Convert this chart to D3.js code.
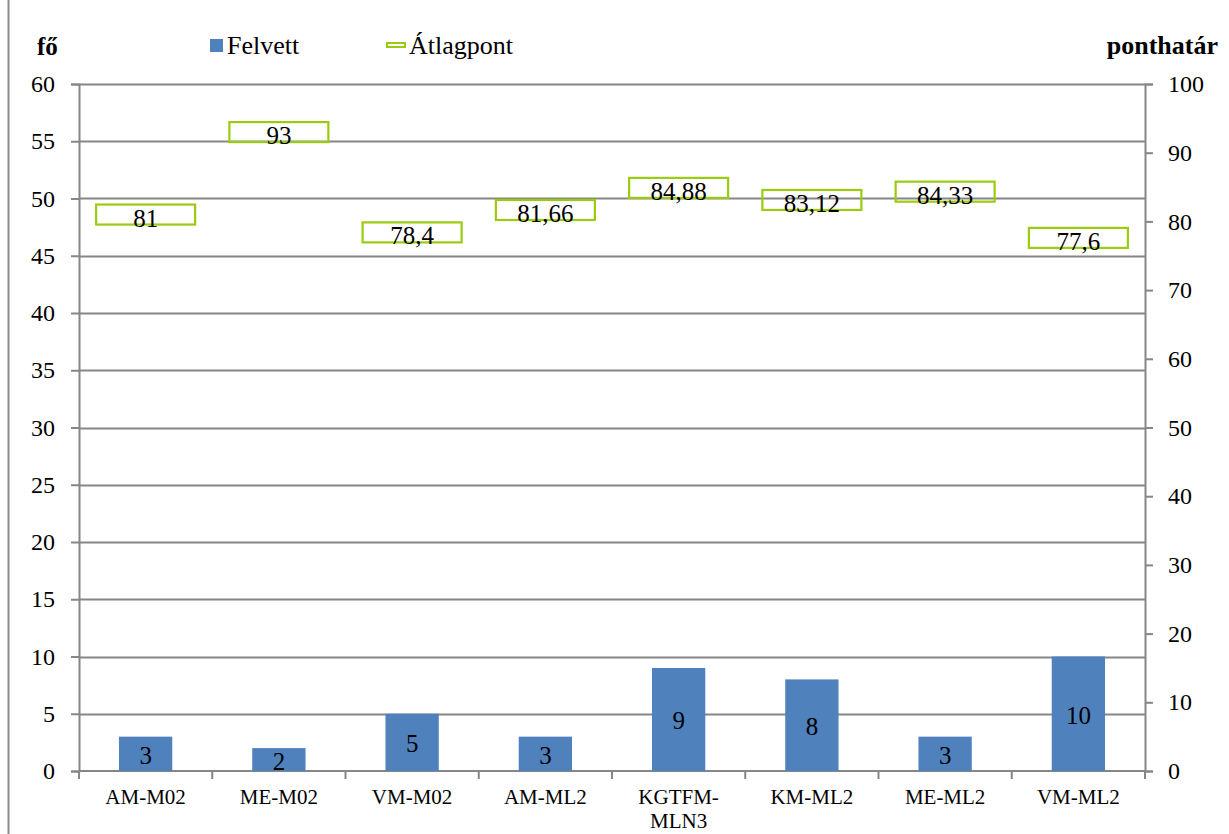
<!DOCTYPE html>
<html>
<head>
<meta charset="utf-8">
<script src="https://cdn.jsdelivr.net/npm/d3@7"></script>
<style>
    body { margin: 0; background: #fff; }
</style>
</head>
<body>
<div id="chart"></div>
<script>
// Data
var categories = ["AM-M02", "ME-M02", "VM-M02", "AM-ML2", "KGTFM-MLN3", "KM-ML2", "ME-ML2", "VM-ML2"];
var felvett = [3, 2, 5, 3, 9, 8, 3, 10];
var atlagpont = [81, 93, 78.4, 81.66, 84.88, 83.12, 84.33, 77.6];
var leftTicks = [0, 5, 10, 15, 20, 25, 30, 35, 40, 45, 50, 55, 60];
var rightTicks = [0, 10, 20, 30, 40, 50, 60, 70, 80, 90, 100];

var serif = "'Liberation Serif', 'Times New Roman', serif";
var width = 1229, height = 834;
var margin = { top: 84, right: 84, bottom: 63, left: 79 };
var innerW = width - margin.left - margin.right;
var innerH = height - margin.top - margin.bottom;

var svg = d3.select("#chart").append("svg")
    .attr("width", width)
    .attr("height", height)
    .attr("font-family", serif);

// chart border on the left edge
svg.append("line")
    .attr("x1", 8.5).attr("x2", 8.5)
    .attr("y1", 0).attr("y2", height)
    .attr("stroke", "#8c8c8c").attr("stroke-width", 2);

var g = svg.append("g")
    .attr("transform", "translate(" + margin.left + "," + margin.top + ")");

var x = d3.scaleBand().domain(categories).range([0, innerW]).paddingInner(0.6).paddingOuter(0.3);
var xOuter = d3.scaleBand().domain(categories).range([0, innerW]);
var yLeft = d3.scaleLinear().domain([0, 60]).range([innerH, 0]);
var yRight = d3.scaleLinear().domain([0, 100]).range([innerH, 0]);

// gridlines
g.selectAll(".grid").data(leftTicks.slice(1))
    .enter().append("line")
    .attr("x1", 0).attr("x2", innerW)
    .attr("y1", function (d) { return Math.round(yLeft(d)) + 0.5; })
    .attr("y2", function (d) { return Math.round(yLeft(d)) + 0.5; })
    .attr("stroke", "#868686").attr("stroke-width", 2);

// left axis
var leftAxis = g.append("g")
    .call(d3.axisLeft(yLeft).tickValues(leftTicks).tickSize(8).tickPadding(16));

// right axis
var rightAxis = g.append("g")
    .attr("transform", "translate(" + innerW + ",0)")
    .call(d3.axisRight(yRight).tickValues(rightTicks).tickSize(8).tickPadding(15));

[leftAxis, rightAxis].forEach(function (a) {
    a.attr("font-family", null).attr("font-size", null);
    a.selectAll("text").style("font-family", serif).style("font-size", "24px").attr("fill", "#000");
    a.select(".domain").attr("stroke", "#868686").attr("stroke-width", 2);
    a.selectAll(".tick line").attr("stroke", "#868686").attr("stroke-width", 2);
});

// bottom axis, ticks between categories
var bottomAxis = g.append("g")
    .attr("transform", "translate(0," + innerH + ")");
bottomAxis.append("line")
    .attr("x1", 0).attr("x2", innerW)
    .attr("stroke", "#868686").attr("stroke-width", 2);
bottomAxis.selectAll(".xtick").data(d3.range(categories.length + 1))
    .enter().append("line")
    .attr("x1", function (i) { return i * xOuter.bandwidth(); })
    .attr("x2", function (i) { return i * xOuter.bandwidth(); })
    .attr("y1", 0).attr("y2", 8)
    .attr("stroke", "#868686").attr("stroke-width", 2);

var catLabels = bottomAxis.selectAll(".cat").data(categories)
    .enter().append("text")
    .attr("text-anchor", "middle")
    .attr("x", function (d) { return xOuter(d) + xOuter.bandwidth() / 2; })
    .attr("y", 33)
    .style("font-family", serif)
    .style("font-size", "21px");
catLabels.each(function (d) {
    var parts = d === "KGTFM-MLN3" ? ["KGTFM-", "MLN3"] : [d];
    var t = d3.select(this);
    parts.forEach(function (p, i) {
        t.append("tspan")
            .attr("x", xOuter(d) + xOuter.bandwidth() / 2)
            .attr("dy", i === 0 ? 0 : 24)
            .text(p);
    });
});

// bars
g.selectAll(".bar").data(felvett)
    .enter().append("rect")
    .attr("x", function (d, i) { return x(categories[i]); })
    .attr("y", function (d) { return yLeft(d); })
    .attr("width", x.bandwidth())
    .attr("height", function (d) { return innerH - yLeft(d); })
    .attr("fill", "#4f81bd");

g.selectAll(".barlabel").data(felvett)
    .enter().append("text")
    .attr("text-anchor", "middle")
    .attr("x", function (d, i) { return x(categories[i]) + x.bandwidth() / 2; })
    .attr("y", function (d) { return (yLeft(d) + innerH) / 2 + 10; })
    .style("font-family", serif)
    .style("font-size", "25px")
    .text(function (d) { return d; });

// Átlagpont boxes
var boxW = 99, boxH = 20;
g.selectAll(".box").data(atlagpont)
    .enter().append("rect")
    .attr("x", function (d, i) { return xOuter(categories[i]) + xOuter.bandwidth() / 2 - boxW / 2; })
    .attr("y", function (d) { return yRight(d) - boxH / 2; })
    .attr("width", boxW).attr("height", boxH)
    .attr("fill", "none")
    .attr("stroke", "#9bcb0f").attr("stroke-width", 2.2);

g.selectAll(".boxlabel").data(atlagpont)
    .enter().append("text")
    .attr("text-anchor", "middle")
    .attr("x", function (d, i) { return xOuter(categories[i]) + xOuter.bandwidth() / 2; })
    .attr("y", function (d) { return yRight(d) + 12; })
    .style("font-family", serif)
    .style("font-size", "25px")
    .text(function (d) { return String(d).replace(".", ","); });

// axis titles
svg.append("text").attr("x", 37).attr("y", 55)
    .style("font-family", serif)
    .style("font-size", "25px").style("font-weight", "bold").text("fő");
svg.append("text").attr("x", 1218).attr("y", 54).attr("text-anchor", "end")
    .style("font-family", serif)
    .style("font-size", "26px").style("font-weight", "bold").text("ponthatár");

// legend
svg.append("rect").attr("x", 210).attr("y", 39).attr("width", 13).attr("height", 13).attr("fill", "#4f81bd");
svg.append("text").attr("x", 227).attr("y", 54)
    .style("font-family", serif).style("font-size", "26px").text("Felvett");
svg.append("rect").attr("x", 387).attr("y", 43).attr("width", 18).attr("height", 4)
    .attr("fill", "none").attr("stroke", "#9bcb0f").attr("stroke-width", 2);
svg.append("text").attr("x", 409).attr("y", 54)
    .style("font-family", serif).style("font-size", "26px").text("Átlagpont");
</script>
</body>
</html>
